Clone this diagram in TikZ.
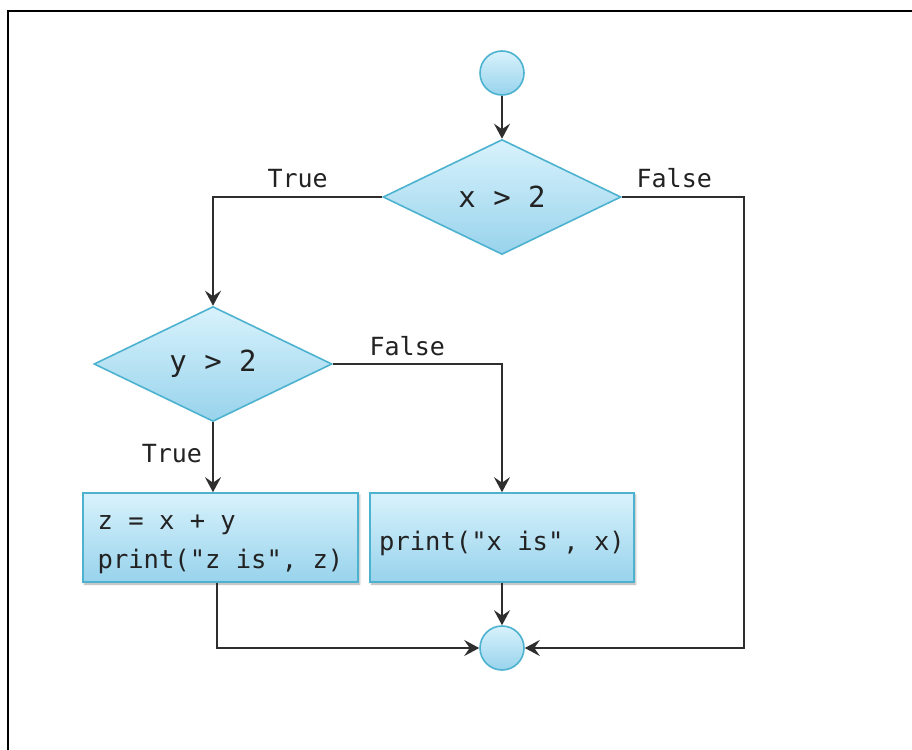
\documentclass[tikz,border=0pt]{standalone}
\usepackage{fontspec}
\setmonofont{DejaVu Sans Mono}
\usetikzlibrary{shapes.geometric,arrows.meta,shadows.blur,calc}

\definecolor{flowedge}{HTML}{4CB2CF}
\definecolor{flowtop}{HTML}{D8F2FC}
\definecolor{flowbot}{HTML}{98D3EC}
\definecolor{flowtext}{HTML}{222222}

\tikzset{
  shapefill/.style={draw=flowedge, line width=1.6pt, top color=flowtop, bottom color=flowbot,
                    text=flowtext, inner sep=0pt},
  terminal/.style={shapefill, circle, minimum size=44pt},
  decision/.style={shapefill, diamond, aspect=2.06, minimum width=238pt, minimum height=115pt,
                   font=\ttfamily\fontsize{29}{34}\selectfont},
  action/.style={shapefill, rectangle, minimum height=89pt,
                 blur shadow={shadow xshift=1.5pt, shadow yshift=-2pt, shadow blur radius=2pt, shadow opacity=35}},
  code/.style={align=left, text=flowtext, inner sep=0pt, font=\ttfamily\fontsize{25.5}{39}\selectfont},
  flow/.style={line width=2pt, draw=black!82, -{Stealth[length=15pt, width=16pt, inset=5.5pt]}},
  branch/.style={font=\ttfamily\fontsize{25}{30}\selectfont, text=flowtext, inner sep=0pt},
}

\begin{document}
\begin{tikzpicture}[x=1pt, y=-1pt]
  \useasboundingbox (0,0) rectangle (912,749);
  \begin{scope}
    \clip (0,0) rectangle (912,749);
    \draw[line width=2.8pt, black] (8,11) rectangle (1000,900);
  \end{scope}

  % nodes
  \node[terminal] (start) at (502,73) {};
  \node[decision] (cx) at (502,197) {x > 2};
  \node[decision] (cy) at (213,364) {y > 2};
  \node[action, minimum width=275pt] (sum) at (220.5,537.5) {};
  \node[code] (sumtext) at (220.5,544) {z = x + y\\print("z is", z)};
  \node[action, minimum width=264pt] (show) at (502,537.5) {};
  \node[code] (showtext) at (502,543) {print("x is", x)};
  \node[terminal] (stop) at (502,648) {};

  % connectors
  \draw[flow] (start) -- (cx);
  \draw[flow] (cx.west) -| node[branch, pos=0.25, above=8pt] {True} (cy.north);
  \draw[flow] (cx.east) -- ++(122,0) node[branch, pos=0.43, above=8pt] {False} |- (stop);
  \draw[flow] (cy.east) -| node[branch, pos=0.22, above=7pt] {False} (show.north);
  \draw[flow] (cy.south) -- node[branch, left=10pt, pos=0.45] {True} (cy.south |- sum.north);
  \draw[flow] ($(sum.south)+(-4,0)$) |- (stop);
  \draw[flow] (show) -- (stop);
\end{tikzpicture}
\end{document}
